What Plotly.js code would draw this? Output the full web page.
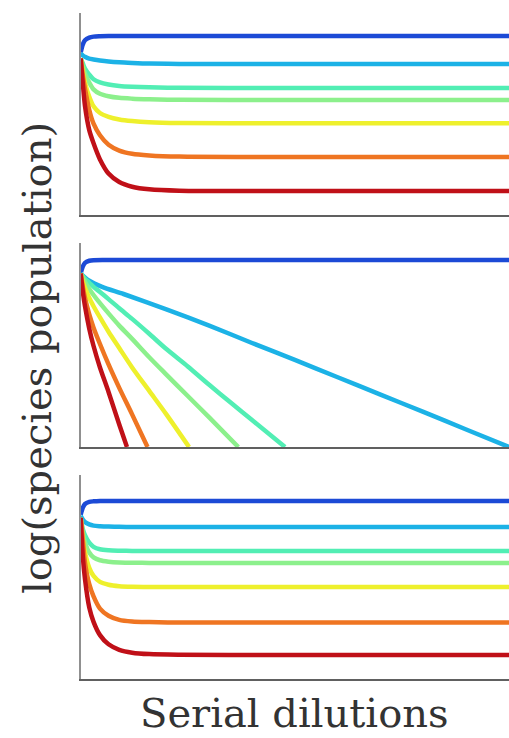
<!DOCTYPE html>
<html>
<head>
<meta charset="utf-8">
<script src="https://cdn.plot.ly/plotly-3.0.1.min.js"></script>
<style>html,body{margin:0;padding:0;background:#fff;}#chart{width:509px;height:738px;}</style>
</head>
<body>
<div id="chart"></div>
<script>
// Sample dilution steps (x) for panels 1 and 3
const xSteps = [0, 0.5, 1, 2, 3, 4.5, 6.5, 9, 12, 16, 23, 40, 100];

// Panel 1 (top): log population per species
const p1Blue   = [80.5, 84.5, 86.5, 87.8, 88.3, 88.5, 88.6, 88.6, 88.6, 88.6, 88.6, 88.6, 88.6];
const p1Cyan   = [80, 79, 78.3, 77.4, 77, 76.5, 76, 75.6, 75.3, 75, 74.8, 74.8, 74.8];
const p1Teal   = [77.5, 75, 72.5, 69.5, 67.2, 65.6, 64.6, 63.9, 63.5, 63.2, 63, 62.9, 62.9];
const p1Green  = [77.5, 73.5, 70, 65.5, 62.2, 60, 58.8, 58, 57.6, 57.3, 57, 56.9, 56.9];
const p1Yellow = [77.5, 71, 65.5, 58.5, 53.8, 50.5, 48.6, 47.3, 46.5, 45.9, 45.5, 45.4, 45.4];
const p1Orange = [77.5, 69, 62.5, 52, 45.2, 39.5, 34.8, 31.9, 30.3, 29.5, 28.9, 28.7, 28.7];
const p1Red    = [77.5, 65, 54, 42, 35.5, 27.5, 20.5, 16.3, 14, 12.7, 12, 11.9, 11.9];

// Panel 2 (middle): each species declines to extinction
const p2BlueX   = [0, 0.5, 1, 2, 3, 6, 100];
const p2BlueY   = [85, 88.5, 90.3, 91.3, 91.6, 91.7, 91.7];
const p2CyanX   = [0, 2, 5, 10, 20, 30, 40, 50, 60, 70, 80, 90, 100];
const p2CyanY   = [85, 81.5, 78.5, 75, 67.5, 59.5, 51, 42.7, 34.2, 25.7, 17.2, 8.6, 0];
const p2TealX   = [0, 1, 2, 3, 4.5, 6.5, 9, 12, 16, 20, 25, 30, 35, 40, 47.7];
const p2TealY   = [85, 82.5, 80.5, 78.5, 76, 72.5, 68, 62.8, 55.5, 48, 39.5, 30.5, 21.8, 13.2, 0];
const p2GreenX  = [0, 1, 2, 3, 4.5, 6.5, 9, 12, 16, 20, 25, 30, 36.8];
const p2GreenY  = [85, 81, 77.5, 74.5, 70.5, 65.5, 59.5, 53, 44, 35.5, 25, 14.5, 0];
const p2YellowX = [0, 0.5, 1, 2, 3, 4.5, 6.5, 9, 12, 16, 20, 25.3];
const p2YellowY = [85, 81, 78, 73, 69, 63.5, 56.5, 48.5, 39, 27.5, 16, 0];
const p2OrangeX = [0, 0.5, 1, 2, 3, 4.5, 6.5, 9, 12, 15.6];
const p2OrangeY = [85, 78.5, 73, 65, 58.5, 50.5, 40.5, 29, 16, 0];
const p2RedX    = [0, 0.5, 1, 2, 3, 4.5, 6.5, 9, 10.8];
const p2RedY    = [85, 76, 69, 58, 49.5, 39, 27, 11, 0];

// Panel 3 (bottom)
const p3Blue   = [80.5, 84, 85.8, 86.8, 87.1, 87.3, 87.3, 87.3, 87.3, 87.3, 87.3, 87.3, 87.3];
const p3Cyan   = [80, 78.2, 77, 75.8, 75.2, 74.9, 74.7, 74.6, 74.5, 74.5, 74.5, 74.5, 74.5];
const p3Teal   = [79, 73.5, 70.5, 66.8, 64.8, 63.6, 63.1, 62.9, 62.8, 62.7, 62.7, 62.7, 62.7];
const p3Green  = [79, 71.5, 67, 62, 59.6, 58.2, 57.5, 57.1, 57, 56.9, 56.9, 56.9, 56.9];
const p3Yellow = [79, 68.5, 62, 54.5, 50.5, 47.6, 46.2, 45.5, 45.2, 45.1, 45.1, 45.1, 45.1];
const p3Orange = [79, 68, 57, 46.5, 40.5, 34.5, 31, 29, 28.2, 27.9, 27.7, 27.7, 27.7];
const p3Red    = [79, 60, 49, 35, 28, 21.5, 17, 14.3, 12.9, 12.2, 11.9, 11.8, 11.8];

const colors = ['#1c4ad6', '#1cb2e6', '#52eeb4', '#8cf08c', '#eef02c', '#ef7522', '#c01018'];
const yTitle = 'log(species population)';
const xTitle = 'Serial dilutions';

function tr(x, y, ci, ax) {
  return {
    x: x, y: y, type: 'scatter', mode: 'lines',
    line: {color: colors[ci], width: 4.5, shape: 'spline', smoothing: 0.8},
    xaxis: 'x' + ax, yaxis: 'y' + ax, hoverinfo: 'skip'
  };
}

const traces = [
  tr(xSteps, p1Blue, 0, ''), tr(xSteps, p1Cyan, 1, ''), tr(xSteps, p1Teal, 2, ''),
  tr(xSteps, p1Green, 3, ''), tr(xSteps, p1Yellow, 4, ''), tr(xSteps, p1Orange, 5, ''), tr(xSteps, p1Red, 6, ''),
  tr(p2BlueX, p2BlueY, 0, '2'), tr(p2CyanX, p2CyanY, 1, '2'), tr(p2TealX, p2TealY, 2, '2'),
  tr(p2GreenX, p2GreenY, 3, '2'), tr(p2YellowX, p2YellowY, 4, '2'), tr(p2OrangeX, p2OrangeY, 5, '2'), tr(p2RedX, p2RedY, 6, '2'),
  tr(xSteps, p3Blue, 0, '3'), tr(xSteps, p3Cyan, 1, '3'), tr(xSteps, p3Teal, 2, '3'),
  tr(xSteps, p3Green, 3, '3'), tr(xSteps, p3Yellow, 4, '3'), tr(xSteps, p3Orange, 5, '3'), tr(xSteps, p3Red, 6, '3')
];

const W = 509, H = 738;
function xa(anchor) {
  return {domain: [80.7 / W, 1], range: [0, 100], anchor: anchor, showline: true, linecolor: '#606060', linewidth: 2,
    showgrid: false, zeroline: false, showticklabels: false, ticks: '', fixedrange: true};
}
function ya(anchor, top, bottom) {
  return {domain: [1 - bottom / H, 1 - top / H], range: [0, 100], anchor: anchor, showline: true, linecolor: '#909090', linewidth: 2,
    showgrid: false, zeroline: false, showticklabels: false, ticks: '', fixedrange: true};
}

const serif = 'DejaVu Serif';
const layout = {
  width: W, height: H,
  margin: {l: 0, r: 0, t: 0, b: 0},
  paper_bgcolor: '#ffffff', plot_bgcolor: '#ffffff',
  showlegend: false,
  xaxis: xa('y'), yaxis: ya('x', 13, 215),
  xaxis2: xa('y2'), yaxis2: ya('x2', 243, 447),
  xaxis3: xa('y3'), yaxis3: ya('x3', 475, 679),
  annotations: [
    {text: yTitle, xref: 'paper', yref: 'paper', x: 37 / W, y: 1 - 358 / H, xanchor: 'center', yanchor: 'middle',
     textangle: -90, showarrow: false, font: {family: serif, size: 40, color: '#333333'}},
    {text: xTitle, xref: 'paper', yref: 'paper', x: 294.5 / W, y: 0, xanchor: 'center', yanchor: 'bottom',
     showarrow: false, font: {family: serif, size: 40, color: '#333333'}}
  ]
};

Plotly.newPlot('chart', traces, layout, {staticPlot: true, displayModeBar: false});
</script>
</body>
</html>
